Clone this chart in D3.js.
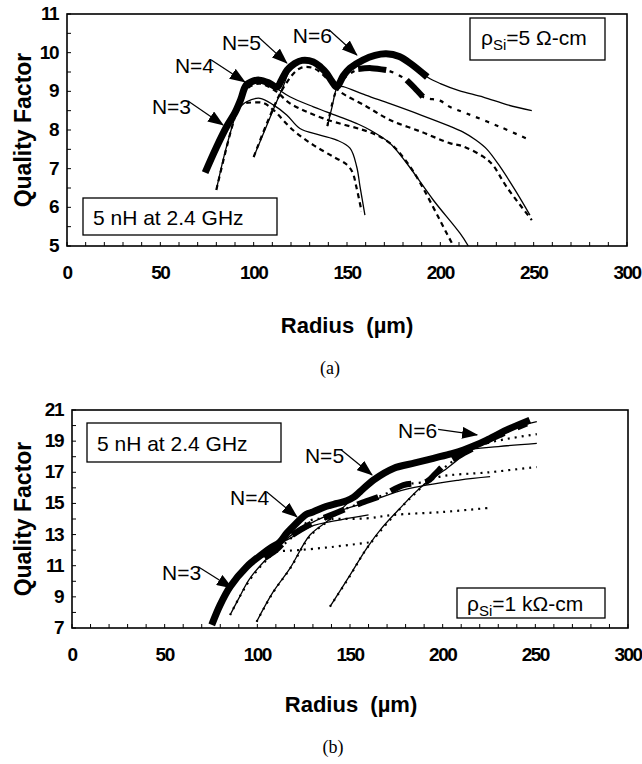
<!DOCTYPE html>
<html><head><meta charset="utf-8">
<script src="https://cdn.jsdelivr.net/npm/d3@7"></script>
<style>body{margin:0;background:#fff;} svg{display:block}</style>
</head><body>
<svg id="c" width="642" height="764"></svg>
<script>
// ---------- tick labels ----------
const xTickLabels = [0, 50, 100, 150, 200, 250, 300];
const yTickLabelsA = [5, 6, 7, 8, 9, 10, 11];
const yTickLabelsB = [7, 9, 11, 13, 15, 17, 19, 21];

// ---------- panel (a): rho = 5 ohm-cm ----------
const a_thick = [[74,6.9],[80,7.55],[86,8.13],[90,8.45],[93,8.78],[96,9.16],[100,9.27],[103,9.29],[108,9.22],[112.5,9.11],[115,9.3],[118,9.55],[122,9.72],[126,9.8],[132,9.76],[136,9.62],[139,9.47],[142,9.25],[144.5,9.11],[148,9.4],[151.6,9.6],[158.5,9.81],[165,9.93],[171,9.97],[178,9.9],[184,9.72],[193,9.37]];
const a_thickDash1 = [[156,9.58],[163,9.6],[171,9.55]];
const a_thickDash2 = [[182,9.29],[186,9.1],[190.6,8.86]];
const a_N3_solid = [[90,8.45],[96.2,8.73],[103.4,8.82],[110.5,8.65],[117.7,8.39],[124.8,8.04],[135.5,7.87],[144.5,7.74],[151.6,7.53],[155.2,7.05],[157,6.53],[159.6,5.8]];
const a_N3_dash = [[96,8.7],[105,8.7],[110.5,8.52],[121,8.0],[132,7.61],[142.6,7.31],[150,7.1],[153,6.9],[155,6.53],[157.8,5.9]];
const a_N4_solid = [[80,6.45],[84,7.3],[89,8.18],[93,8.8],[96,9.16],[103,9.29],[108,9.22],[112.3,9.08],[119.4,8.86],[132,8.6],[139,8.47],[157,8.13],[162.3,8.0],[173,7.66],[182,7.14],[196.2,6.19],[210.5,5.33],[215,5.0]];
const a_N4_dash = [[80,6.45],[89,8.18],[95,9.0],[103,9.2],[112,9.0],[119.4,8.69],[137.3,8.3],[164,7.91],[173,7.66],[180,7.3],[187.3,6.79],[203.4,5.33],[207,5.0]];
const a_N5_solid = [[100,7.3],[106,8.0],[112,8.7],[116,9.15],[120,9.6],[126,9.8],[132,9.76],[139,9.47],[144.5,9.15],[148,9.12],[160,8.9],[173,8.68],[190,8.38],[205,8.1],[212,7.95],[219,7.74],[225,7.5],[232,7.05],[240,6.45],[248,5.8]];
const a_N5_dash = [[100,7.3],[116,9.1],[125,9.6],[132,9.6],[140,9.3],[146,9.0],[160,8.62],[173,8.26],[190,7.95],[205,7.66],[212,7.58],[223,7.31],[228,7.1],[235.5,6.53],[249,5.67]];
const a_N6_solid = [[139.5,8.1],[142,8.6],[144.5,9.1],[148,9.4],[151.6,9.6],[158.5,9.81],[165,9.93],[171,9.97],[178,9.9],[184,9.72],[193,9.37],[200,9.2],[210,9.02],[223,8.85],[236,8.65],[249,8.5]];
const a_N6_dash = [[139.5,8.1],[144.5,9.05],[150,9.4],[158.5,9.6],[171,9.55],[182,9.29],[190.6,8.86],[199.8,8.76],[205,8.6],[214,8.43],[232,8.08],[248,7.74]];

// ---------- panel (b): rho = 1 kohm-cm ----------
const b_thick = [[75.4,7.2],[80,8.5],[85.3,9.65],[94.3,10.94],[103.2,11.8],[108,12.2],[112,12.5],[115.8,13.08],[120,13.6],[126.5,14.3],[130,14.45],[137,14.8],[143,15.0],[148.2,15.17],[152,15.4],[155.4,15.75],[162.6,16.5],[173.4,17.25],[185,17.6],[195,17.9],[205,18.2],[211.2,18.43],[218,18.75],[223.8,19.07],[234.6,19.72],[247,20.35]];
const b_thickDash = [[104,11.5],[110,12.0],[117.6,12.86],[130,13.75],[142.8,14.4],[155.4,15.0],[167.9,15.54],[178.8,16.18],[191.4,16.4],[196,16.9],[202,17.58],[213,18.32],[222,18.9],[231,19.4],[245.4,20.14]];
const b_N3_solid = [[103,11.8],[110,12.35],[117.6,12.76],[128.4,13.5],[145,13.95],[160,14.26]];
const b_N3_dot = [[103,11.6],[110.5,11.9],[122,12.0],[140,12.2],[160.8,12.5]];
const b_N4_solid = [[85.3,7.83],[90,8.9],[96,10.19],[108.6,11.9],[117.6,12.9],[130,13.8],[142.8,14.45],[150,14.75],[160,15.1],[180,15.9],[209,16.5],[225.6,16.72]];
const b_N4_dot = [[85.3,7.83],[96,10.1],[108.6,11.8],[117.6,12.7],[128.4,13.9],[140,14.0],[159,14.04],[173,14.26],[200,14.45],[225.6,14.72]];
const b_N5_solid = [[99.6,7.4],[108.6,9.33],[117.6,10.83],[128.4,12.97],[137.4,13.83],[145,14.6],[152,15.4],[155.4,15.75],[162.6,16.5],[173.4,17.25],[195,17.9],[211,18.4],[230,18.65],[250.8,18.86]];
const b_N5_dot = [[99.6,7.4],[108.6,9.3],[117.6,10.8],[128.4,12.9],[137.4,13.8],[145,14.5],[155.4,15.0],[167.9,15.54],[178.8,16.18],[191.4,16.4],[198.6,16.72],[225,17.0],[250.8,17.34]];
const b_N6_solid = [[139.2,8.37],[150,10.4],[159,12.12],[167,13.4],[175.2,14.47],[189.6,16.18],[202.2,17.25],[210,18.0],[215,18.6],[223.8,19.07],[234.6,19.72],[250.8,20.25]];
const b_N6_dot = [[139.2,8.37],[150,10.35],[159,12.1],[175,14.4],[189.6,16.15],[202,17.4],[213,18.32],[222,18.8],[235,19.15],[250.8,19.45]];

// ---------- annotations (text anchor tx,ty; arrow tip x,y — data units) ----------
const a_labels = [{t:"N=3",tx:45.5,ty:8.41,x:83.6,y:8.13},{t:"N=4",tx:57.8,ty:9.47,x:95.3,y:9.24},{t:"N=5",tx:83,ty:10.07,x:117.8,y:9.73},{t:"N=6",tx:121,ty:10.25,x:155.3,y:9.94}];
const b_labels = [{t:"N=3",tx:48.6,ty:10.08,x:86.3,y:9.57},{t:"N=4",tx:85.3,ty:14.9,x:121.4,y:14.13},{t:"N=5",tx:125.7,ty:17.6,x:161.9,y:16.83},{t:"N=6",tx:175.9,ty:19.2,x:218.6,y:19.4,flat:true}];

const svg = d3.select('#c');
const defs = svg.append('defs');
defs.append('marker').attr('id','arr').attr('viewBox','0 0 16 12').attr('refX',15).attr('refY',6)
  .attr('markerWidth',16).attr('markerHeight',12).attr('markerUnits','userSpaceOnUse').attr('orient','auto')
  .append('path').attr('d','M0,0 L16,6 L0,12 Z').attr('fill','#000');

const SANS = 'Liberation Sans, Arial, sans-serif';
function panel(cfg){
  const g = svg.append('g');
  const x = d3.scaleLinear().domain([0,300]).range([cfg.left,cfg.right]);
  const y = d3.scaleLinear().domain(cfg.yDomain).range([cfg.bottom,cfg.top]);
  const line = d3.line().x(d=>x(d[0])).y(d=>y(d[1])).curve(d3.curveCatmullRom.alpha(0.5));
  const clip = 'clip'+cfg.id;
  defs.append('clipPath').attr('id',clip).append('rect')
    .attr('x',cfg.left).attr('y',cfg.top).attr('width',cfg.right-cfg.left).attr('height',cfg.bottom-cfg.top);
  const plot = g.append('g').attr('clip-path',`url(#${clip})`);
  cfg.series.forEach(s=>{
    plot.append('path').attr('d',line(s.data)).attr('fill','none').attr('stroke','#000')
      .attr('stroke-width',s.w).attr('stroke-dasharray',s.dash||null)
      .attr('stroke-linecap','butt').attr('stroke-linejoin','round');
  });
  // frame
  g.append('rect').attr('x',cfg.left).attr('y',cfg.top).attr('width',cfg.right-cfg.left).attr('height',cfg.bottom-cfg.top)
    .attr('fill','none').attr('stroke','#000').attr('stroke-width',1.6);
  // ticks (inward)
  const xt = d3.range(0,301,10);
  g.selectAll(null).data(xt).enter().append('line')
    .attr('x1',d=>x(d)).attr('x2',d=>x(d)).attr('y1',cfg.bottom).attr('y2',cfg.bottom-4)
    .attr('stroke','#000').attr('stroke-width',1);
  const yt = d3.range(cfg.yDomain[0],cfg.yDomain[1]+0.001,cfg.yMinor);
  g.selectAll(null).data(yt).enter().append('line')
    .attr('x1',cfg.left).attr('x2',cfg.left+4).attr('y1',d=>y(d)).attr('y2',d=>y(d))
    .attr('stroke','#000').attr('stroke-width',1);
  // tick labels
  g.selectAll(null).data(xTickLabels).enter().append('text')
    .attr('x',d=>x(d)).attr('y',cfg.bottom+33).attr('text-anchor','middle')
    .attr('font-family',SANS).attr('font-weight','bold').attr('font-size',19)
    .attr('letter-spacing',-1.5).text(d=>d);
  g.selectAll(null).data(cfg.yLabels).enter().append('text')
    .attr('x',cfg.left-9).attr('y',d=>y(d)+6).attr('text-anchor','end')
    .attr('font-family',SANS).attr('font-weight','bold').attr('font-size',19)
    .attr('letter-spacing',-1.5).text(d=>d);
  // axis titles
  g.append('text').attr('transform',`translate(31,${(cfg.top+cfg.bottom)/2}) rotate(-90)`)
    .attr('text-anchor','middle').attr('font-family',SANS)
    .attr('font-weight','bold').attr('font-size',23).text('Quality Factor');
  g.append('text').attr('x',cfg.titleX).attr('y',cfg.titleY).attr('text-anchor','middle')
    .attr('font-family',SANS).attr('font-weight','bold').attr('font-size',22)
    .attr('xml:space','preserve').text('Radius  (µm)');
  g.append('text').attr('x',cfg.capX).attr('y',cfg.capY).attr('text-anchor','middle')
    .attr('font-family','Liberation Serif, Times New Roman, serif').attr('font-size',18).text(cfg.cap);
  // N labels with arrows
  cfg.labels.forEach(l=>{
    const t = g.append('text').attr('x',x(l.tx)).attr('y',y(l.ty)).attr('font-family',SANS)
      .attr('font-size',21).text(l.t);
    const bb = t.node().getBBox();
    const sx = l.flat ? bb.x+bb.width+1 : bb.x+bb.width-3;
    const sy = l.flat ? bb.y+bb.height*0.45 : bb.y+bb.height*0.25;
    g.append('line').attr('x1',sx).attr('y1',sy).attr('x2',x(l.x)).attr('y2',y(l.y))
      .attr('stroke','#000').attr('stroke-width',1.2).attr('marker-end','url(#arr)');
  });
  // boxes
  cfg.boxes.forEach(b=>{
    g.append('rect').attr('x',b.x).attr('y',b.y).attr('width',b.w).attr('height',b.h)
      .attr('fill','#fff').attr('stroke','#000').attr('stroke-width',1.3);
    const t = g.append('text').attr('x',b.x+b.tx).attr('y',b.y+b.ty)
      .attr('font-family',SANS).attr('font-size',21);
    if(b.rho){
      t.append('tspan').text('ρ');
      t.append('tspan').attr('font-size',15).attr('dy',5).text('Si');
      t.append('tspan').attr('dy',-5).text(b.rest);
    } else t.text(b.text);
  });
}

const thickW = 7, thinW = 1.3, dashW = 2.2;
panel({id:'a', left:67, right:627, top:14, bottom:246, yDomain:[5,11], yMinor:0.5, yLabels:yTickLabelsA,
  titleX:347, titleY:333, cap:'(a)', capX:330, capY:374,
  series:[
    {data:a_N3_dash,w:dashW,dash:'5,4'},{data:a_N3_solid,w:thinW},
    {data:a_N4_dash,w:dashW,dash:'5,4'},{data:a_N4_solid,w:thinW},
    {data:a_N5_dash,w:dashW,dash:'5,4'},{data:a_N5_solid,w:thinW},
    {data:a_N6_dash,w:dashW,dash:'4,6'},{data:a_N6_solid,w:thinW},
    {data:a_thick,w:thickW},
    {data:a_thickDash1,w:6},{data:a_thickDash2,w:6}
  ],
  labels:a_labels,
  boxes:[{x:83,y:198,w:194,h:37,tx:10,ty:27,text:'5 nH at 2.4 GHz'},
         {x:470,y:18,w:135,h:42,tx:11,ty:27,rho:true,rest:'=5 Ω-cm'}]
});
panel({id:'b', left:72, right:628, top:410, bottom:628, yDomain:[7,21], yMinor:1, yLabels:yTickLabelsB,
  titleX:351, titleY:712, cap:'(b)', capX:333, capY:753,
  series:[
    {data:b_N3_dot,w:dashW,dash:'2,5'},{data:b_N3_solid,w:thinW},
    {data:b_N4_dot,w:dashW,dash:'2,5'},{data:b_N4_solid,w:thinW},
    {data:b_N5_dot,w:dashW,dash:'2,5'},{data:b_N5_solid,w:thinW},
    {data:b_N6_dot,w:dashW,dash:'2,5'},{data:b_N6_solid,w:thinW},
    {data:b_thickDash,w:6,dash:'22,14'},
    {data:b_thick,w:thickW}
  ],
  labels:b_labels,
  boxes:[{x:87,y:423,w:194,h:39,tx:10,ty:28,text:'5 nH at 2.4 GHz'},
         {x:457,y:588,w:148,h:30,tx:10,ty:23,rho:true,rest:'=1 kΩ-cm'}]
});
</script>
</body></html>
